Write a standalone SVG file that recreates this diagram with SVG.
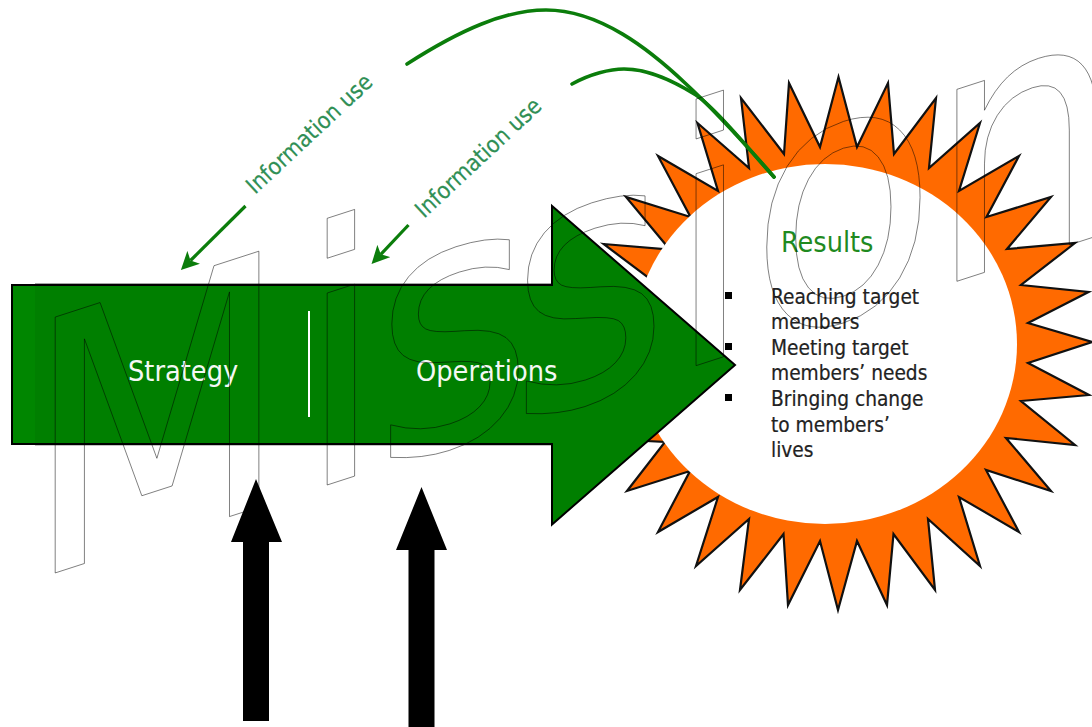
<svg xmlns="http://www.w3.org/2000/svg" width="1092" height="727" viewBox="0 0 1092 727">
<style>
text{font-family:"DejaVu Sans","Noto Sans",sans-serif;font-stretch:condensed}
.lbl{fill:#f4f8f4;font-size:28.6px}
.info{fill:#2f8f55;font-size:23px;stroke:#2f8f55;stroke-width:.2}
.item{fill:#222;font-size:20.7px;stroke:#222;stroke-width:.2}
.curve{fill:none;stroke:#0b7d0b;stroke-width:3.6;stroke-linecap:round}
.back{fill:none;stroke:#0b7d0b;stroke-width:3.2;marker-end:url(#tip)}
.block{fill:#000}
.bullet{fill:#000}
.word{font-stretch:normal;font-size:351px;fill:none;stroke:#000;stroke-width:.5}
</style>
<defs>
<marker id="tip" markerUnits="userSpaceOnUse" markerWidth="18" markerHeight="18" refX="4" refY="8" orient="auto" viewBox="0 0 16 16">
<path d="M0,0L16,8L0,16L4,8Z" fill="#0b7d0b"/>
</marker>
</defs>
<rect width="1092" height="727" fill="#fff"/>
<g id="results-star">
<path fill="#ff6a00" stroke="#111" stroke-width="2.2" stroke-linejoin="miter" d="M603.5,244L664,249L666,245L626,197L690.5,217L658,156L718,191L697.5,123L749,168L741,98L784,154L789,83L820,147L838.5,77L857,147L888,83L894,154L936,98L929,168L980,123L959,191L1019,156L986.5,217L1051,197L1007,249L1075,243L1021,285L1088.5,292L1028,323L1092,342L1028,363L1089,395L1021,401L1075,445L1006,438L1051,491L986,470L1019,532L959,497L980,566L928,519L935,590L893.5,534L887,605L857,541L838,610L820,541L788,605L783.5,534L740,590L749,519L696,566L718,497L658,532L690,471L627,491L665,442L647,441L649,278Z"/>
<ellipse cx="825" cy="344" rx="192" ry="180" fill="#fff"/>
<text x="781" y="252" font-size="28.5" fill="#1f8a1f">Results</text>
<rect class="bullet" x="725" y="292" width="7" height="7"/>
<rect class="bullet" x="725" y="343" width="7" height="7"/>
<rect class="bullet" x="725" y="394" width="7" height="7"/>
<text class="item" x="771" y="304">Reaching target</text>
<text class="item" x="771" y="329">members</text>
<text class="item" x="771" y="355">Meeting target</text>
<text class="item" x="771" y="380">members’ needs</text>
<text class="item" x="771" y="406">Bringing change</text>
<text class="item" x="771" y="432">to members’</text>
<text class="item" x="771" y="457">lives</text>
</g>
<g id="main-arrow">
<path d="M35,284H552V444.8H35" fill="none" stroke="#888" stroke-width="1.5"/>
<path d="M12,285H552V206L735,365L552,524.5V444H12Z" fill="#007f00" stroke="#000" stroke-width="2"/>
<rect x="13" y="286" width="22" height="157" fill="#008600"/>
<line x1="309" y1="311" x2="309" y2="417" stroke="#fff" stroke-width="2"/>
<text class="lbl" x="128" y="381">Strategy</text>
<text class="lbl" x="416" y="381">Operations</text>
</g>
<g id="connectors">
<path class="curve" d="M407,64C460,30 505,10 546,10C600,10 650,50 685,83C720,115 750,150 774,177"/>
<path class="curve" d="M572,84C590,74 610,69 624,69C650,69 675,82 696,95C715,108 750,150 774,177"/>
<line class="back" x1="245.5" y1="206" x2="190.5" y2="260.5"/>
<line class="back" x1="408.5" y1="225" x2="380.8" y2="254.3"/>
<polygon class="block" points="256,479 282,542 269,542 269,721 243,721 243,542 231,542"/>
<polygon class="block" points="421.5,487 447,550 434.5,550 434.5,727 408.5,727 408.5,550 396,550"/>
</g>
<g id="info-label-1"><text class="info" transform="translate(255,195) rotate(-43)">Information use</text></g>
<g id="info-label-2"><text class="info" transform="translate(424,219) rotate(-43)">Information use</text></g>
<g id="mission-word">
<text class="word" transform="matrix(.87,-.2814,0,1,0,590.8)" x="29 343 430 586 767 862 1068" y="0">Mission</text>
</g>
</svg>
